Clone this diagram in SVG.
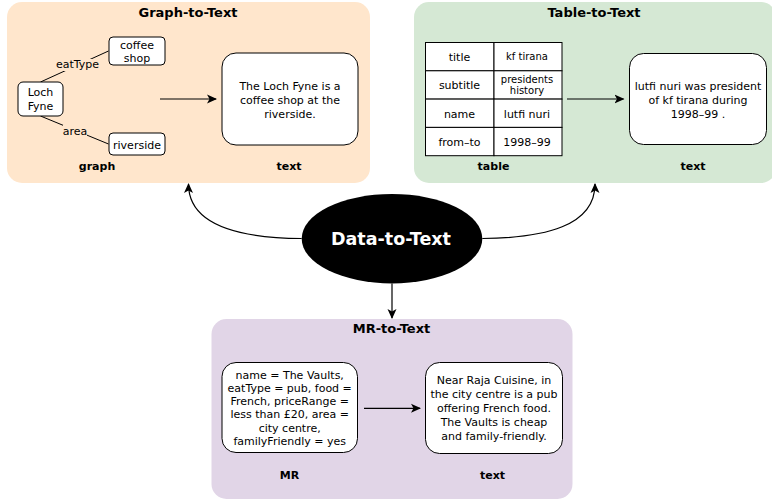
<svg xmlns="http://www.w3.org/2000/svg" width="772" height="501" viewBox="0 0 772 501">
<defs>
<marker id="arr" viewBox="0 0 10 10" refX="9" refY="5" markerWidth="10" markerHeight="10" markerUnits="userSpaceOnUse" orient="auto">
<path d="M0,0.5 L10,5 L0,9.5 L2.5,5 Z" fill="#000"/>
</marker>
<style>
text{font-family:"DejaVu Sans","Liberation Sans",sans-serif;fill:#000;text-anchor:middle}
.t{font-size:13px;font-weight:bold}
.l{font-size:11px;font-weight:bold}
.n{font-size:11px}
.s{font-size:10px}
.box{fill:#fff;stroke:#000;stroke-width:1}
.cell{fill:#fff;stroke:#000;stroke-width:1}
.edge{fill:none;stroke:#000;stroke-width:1.2}
.rel{fill:none;stroke:#000;stroke-width:1}
.lbg{fill:#FFE6CC}
</style>
</defs>

<g id="graph-to-text">
<rect x="7" y="2" width="363" height="181" rx="15" fill="#FFE6CC"/>
<text class="t" x="188" y="17">Graph-to-Text</text>
<line class="rel" x1="40.5" y1="82" x2="108.5" y2="51"/>
<line class="rel" x1="40.5" y1="116" x2="108.5" y2="144"/>
<rect class="lbg" x="56" y="59" width="43" height="12"/>
<text class="n" x="77.5" y="68">eatType</text>
<rect class="lbg" x="63" y="125" width="24" height="12"/>
<text class="n" x="75" y="134.5">area</text>
<g id="coffee-shop">
<rect class="box" x="109" y="37" width="56" height="28" rx="4"/>
<text class="n" x="137" y="48.5">coffee</text>
<text class="n" x="137" y="61.5">shop</text>
</g>
<g id="loch-fyne">
<rect class="box" x="18" y="82" width="45" height="34" rx="5"/>
<text class="n" x="40.5" y="96">Loch</text>
<text class="n" x="40.5" y="109.5">Fyne</text>
</g>
<g id="riverside">
<rect class="box" x="109" y="133" width="56" height="22" rx="4"/>
<text class="n" x="137" y="148.5">riverside</text>
</g>
<g id="graph-text">
<rect class="box" x="222" y="53" width="136" height="92" rx="14"/>
<text class="n" x="290" y="89.5">The Loch Fyne is a</text>
<text class="n" x="290" y="103.5">coffee shop at the</text>
<text class="n" x="290" y="117.5">riverside.</text>
</g>
<text class="l" x="97" y="170">graph</text>
<text class="l" x="289" y="170">text</text>
</g>

<g id="table-to-text">
<rect x="414" y="2" width="362" height="181" rx="15" fill="#D5E8D4"/>
<text class="t" x="594" y="17">Table-to-Text</text>
<g id="table">
<rect class="cell" x="425.5" y="42.5" width="68.5" height="28.3"/>
<rect class="cell" x="494" y="42.5" width="68" height="28.3"/>
<rect class="cell" x="425.5" y="70.8" width="68.5" height="28.3"/>
<rect class="cell" x="494" y="70.8" width="68" height="28.3"/>
<rect class="cell" x="425.5" y="99.1" width="68.5" height="28.3"/>
<rect class="cell" x="494" y="99.1" width="68" height="28.3"/>
<rect class="cell" x="425.5" y="127.4" width="68.5" height="28.3"/>
<rect class="cell" x="494" y="127.4" width="68" height="28.3"/>
<text class="n" x="459.5" y="61">title</text>
<text class="s" x="527" y="60">kf tirana</text>
<text class="n" x="459.5" y="89">subtitle</text>
<text class="s" x="527" y="82.5">presidents</text>
<text class="s" x="527" y="94">history</text>
<text class="n" x="459.5" y="117.5">name</text>
<text class="n" x="527" y="117.5">lutfi nuri</text>
<text class="n" x="459.5" y="145.5">from–to</text>
<text class="n" x="527" y="145.5">1998–99</text>
</g>
<g id="table-text">
<rect class="box" x="629.5" y="53.5" width="137" height="91" rx="14"/>
<text class="n" x="698" y="90">lutfi nuri was president</text>
<text class="n" x="698" y="104">of kf tirana during</text>
<text class="n" x="698" y="118">1998–99 .</text>
</g>
<text class="l" x="493.5" y="170">table</text>
<text class="l" x="693" y="170">text</text>
</g>

<g id="mr-to-text">
<rect x="211.5" y="319" width="361" height="180" rx="15" fill="#E1D5E7"/>
<text class="t" x="391.5" y="333">MR-to-Text</text>
<g id="mr">
<rect class="box" x="222" y="362.5" width="135.5" height="90" rx="14"/>
<text class="n" x="289.7" y="378.5">name = The Vaults,</text>
<text class="n" x="289.7" y="391.8">eatType = pub, food =</text>
<text class="n" x="289.7" y="405.1">French, priceRange =</text>
<text class="n" x="289.7" y="418.4">less than £20, area =</text>
<text class="n" x="289.7" y="431.7">city centre,</text>
<text class="n" x="289.7" y="445">familyFriendly = yes</text>
</g>
<g id="mr-text">
<rect class="box" x="425.5" y="362.5" width="137" height="91" rx="14"/>
<text class="n" x="494" y="384">Near Raja Cuisine, in</text>
<text class="n" x="494" y="398">the city centre is a pub</text>
<text class="n" x="494" y="412">offering French food.</text>
<text class="n" x="494" y="426">The Vaults is cheap</text>
<text class="n" x="494" y="440">and family-friendly.</text>
</g>
<text class="l" x="289.5" y="478.5">MR</text>
<text class="l" x="492.5" y="478.5">text</text>
</g>

<g id="data-to-text">
<ellipse cx="392" cy="238.7" rx="90.3" ry="44.7" fill="#000"/>
<text x="391" y="245" style="font-size:17.5px;font-weight:bold;fill:#fff">Data-to-Text</text>
</g>

<g id="connectors">
<line class="edge" x1="160" y1="99" x2="216" y2="99" marker-end="url(#arr)"/>
<line class="edge" x1="567" y1="99" x2="623.5" y2="99" marker-end="url(#arr)"/>
<line class="edge" x1="364" y1="408.3" x2="420" y2="408.3" marker-end="url(#arr)"/>
<path class="edge" d="M301.7,238.5 C240,238 188.5,226 188.5,184" marker-end="url(#arr)"/>
<path class="edge" d="M482.3,238.5 C545,238 595,226 595,184" marker-end="url(#arr)"/>
<line class="edge" x1="392" y1="283.4" x2="392" y2="318" marker-end="url(#arr)"/>
</g>
</svg>
